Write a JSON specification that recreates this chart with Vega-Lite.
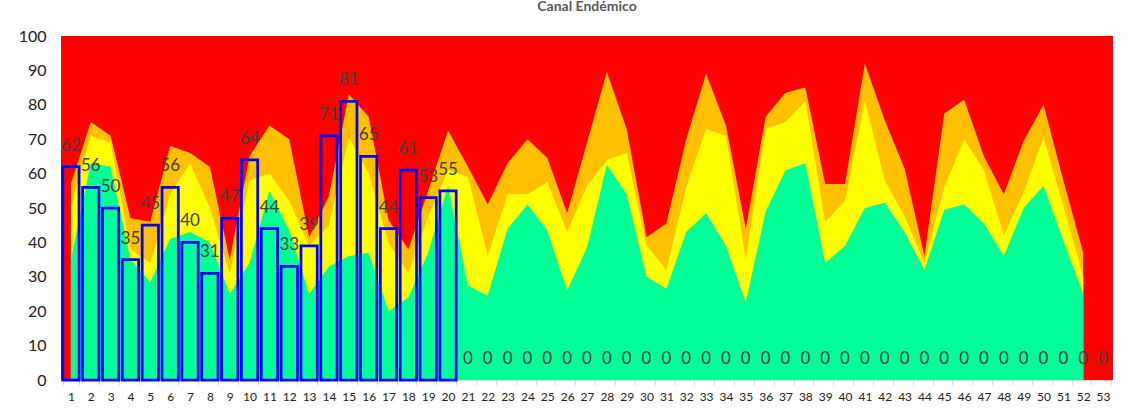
{
  "$schema": "https://vega.github.io/schema/vega-lite/v6.json",
  "width": 1052,
  "height": 344,
  "autosize": {"type": "none"},
  "padding": {"left": 61, "top": 36, "right": 21, "bottom": 29},
  "background": "white",
  "title": {"text": "Canal Endémico", "fontSize": 14, "fontWeight": "bold", "color": "#595959", "font": "Lato", "frame": "group", "anchor": "middle", "offset": 0, "baseline": "bottom"},
  "config": {"view": {"fill": "#FF0000", "stroke": null}, "font": "Lato"},
  "data": {"values": [
    {"week": 1, "casos": 62, "G": 35, "Y": 50, "O": 57},
    {"week": 2, "casos": 56, "G": 63, "Y": 71, "O": 75},
    {"week": 3, "casos": 50, "G": 62, "Y": 69, "O": 71},
    {"week": 4, "casos": 35, "G": 35, "Y": 38, "O": 47},
    {"week": 5, "casos": 45, "G": 28.5, "Y": 34, "O": 46},
    {"week": 6, "casos": 56, "G": 41, "Y": 54, "O": 68},
    {"week": 7, "casos": 40, "G": 43, "Y": 63, "O": 66},
    {"week": 8, "casos": 31, "G": 40, "Y": 50, "O": 62},
    {"week": 9, "casos": 47, "G": 25, "Y": 31, "O": 35},
    {"week": 10, "casos": 64, "G": 34, "Y": 58, "O": 65},
    {"week": 11, "casos": 44, "G": 55, "Y": 60, "O": 74},
    {"week": 12, "casos": 33, "G": 43.5, "Y": 52, "O": 70},
    {"week": 13, "casos": 39, "G": 25, "Y": 39, "O": 41.5},
    {"week": 14, "casos": 71, "G": 33, "Y": 45, "O": 53.5},
    {"week": 15, "casos": 81, "G": 36, "Y": 70.5, "O": 83},
    {"week": 16, "casos": 65, "G": 37, "Y": 60, "O": 76.5},
    {"week": 17, "casos": 44, "G": 20, "Y": 40, "O": 46.5},
    {"week": 18, "casos": 61, "G": 24, "Y": 31, "O": 38},
    {"week": 19, "casos": 53, "G": 37, "Y": 47.5, "O": 55},
    {"week": 20, "casos": 55, "G": 56.5, "Y": 61, "O": 72.5},
    {"week": 21, "casos": 0, "G": 27.5, "Y": 59, "O": 62},
    {"week": 22, "casos": 0, "G": 24.5, "Y": 36, "O": 51},
    {"week": 23, "casos": 0, "G": 44, "Y": 54, "O": 63},
    {"week": 24, "casos": 0, "G": 51, "Y": 54, "O": 70},
    {"week": 25, "casos": 0, "G": 43.5, "Y": 57.5, "O": 64.5},
    {"week": 26, "casos": 0, "G": 26, "Y": 43, "O": 48.5},
    {"week": 27, "casos": 0, "G": 38.5, "Y": 56.5, "O": 69},
    {"week": 28, "casos": 0, "G": 62.5, "Y": 64, "O": 89.5},
    {"week": 29, "casos": 0, "G": 54, "Y": 66, "O": 73},
    {"week": 30, "casos": 0, "G": 30, "Y": 39, "O": 41.5},
    {"week": 31, "casos": 0, "G": 26.5, "Y": 32, "O": 45.5},
    {"week": 32, "casos": 0, "G": 43, "Y": 56, "O": 70},
    {"week": 33, "casos": 0, "G": 48.5, "Y": 73, "O": 89},
    {"week": 34, "casos": 0, "G": 39, "Y": 71, "O": 74},
    {"week": 35, "casos": 0, "G": 22.5, "Y": 35, "O": 44},
    {"week": 36, "casos": 0, "G": 49, "Y": 73, "O": 76.5},
    {"week": 37, "casos": 0, "G": 61, "Y": 75, "O": 83.5},
    {"week": 38, "casos": 0, "G": 63, "Y": 81, "O": 85},
    {"week": 39, "casos": 0, "G": 34, "Y": 46, "O": 57},
    {"week": 40, "casos": 0, "G": 39, "Y": 52, "O": 57},
    {"week": 41, "casos": 0, "G": 50, "Y": 81, "O": 92},
    {"week": 42, "casos": 0, "G": 51.5, "Y": 58, "O": 75.5},
    {"week": 43, "casos": 0, "G": 43, "Y": 47.5, "O": 61.5},
    {"week": 44, "casos": 0, "G": 32, "Y": 34, "O": 36},
    {"week": 45, "casos": 0, "G": 49.5, "Y": 56, "O": 77.5},
    {"week": 46, "casos": 0, "G": 51, "Y": 70, "O": 81.5},
    {"week": 47, "casos": 0, "G": 45.5, "Y": 61, "O": 65},
    {"week": 48, "casos": 0, "G": 36, "Y": 42, "O": 54},
    {"week": 49, "casos": 0, "G": 50, "Y": 54.5, "O": 69.5},
    {"week": 50, "casos": 0, "G": 56.5, "Y": 70.5, "O": 80},
    {"week": 51, "casos": 0, "G": 40.5, "Y": 50.5, "O": 58},
    {"week": 52, "casos": 0, "G": 25, "Y": 30, "O": 37},
    {"week": 53, "casos": 0, "G": null, "Y": null, "O": null}
  ]},
  "encoding": {
    "x": {
      "field": "week", "type": "ordinal",
      "scale": {"paddingInner": 0.18, "paddingOuter": 0.09},
      "axis": {"title": null, "labelAngle": 0, "labelFontSize": 12, "labelColor": "#222222", "domainColor": "#D9D9D9", "tickColor": "#D9D9D9", "tickSize": 5, "tickBand": "extent", "labelPadding": 6, "grid": false}
    }
  },
  "layer": [
    {
      "mark": {"type": "area", "color": "#FFC000"},
      "encoding": {
        "x": {"field": "week", "type": "ordinal", "bandPosition": 0.5},
        "y": {"field": "O", "type": "quantitative", "scale": {"domain": [0, 100], "nice": false},
              "axis": {"title": null, "values": [0, 10, 20, 30, 40, 50, 60, 70, 80, 90, 100], "domain": false, "ticks": false, "grid": false, "labelFontSize": 16, "labelPadding": 15, "labelColor": "#222222"}}
      }
    },
    {
      "mark": {"type": "area", "color": "#FFFF00"},
      "encoding": {
        "x": {"field": "week", "type": "ordinal", "bandPosition": 0.5},
        "y": {"field": "Y", "type": "quantitative", "scale": {"domain": [0, 100], "nice": false},
              "axis": {"title": null, "values": [0, 10, 20, 30, 40, 50, 60, 70, 80, 90, 100], "domain": false, "ticks": false, "grid": false, "labelFontSize": 16, "labelPadding": 15, "labelColor": "#222222"}}
      }
    },
    {
      "mark": {"type": "area", "color": "#00FF99"},
      "encoding": {
        "x": {"field": "week", "type": "ordinal", "bandPosition": 0.5},
        "y": {"field": "G", "type": "quantitative", "scale": {"domain": [0, 100], "nice": false},
              "axis": {"title": null, "values": [0, 10, 20, 30, 40, 50, 60, 70, 80, 90, 100], "domain": false, "ticks": false, "grid": false, "labelFontSize": 16, "labelPadding": 15, "labelColor": "#222222"}}
      }
    },
    {
      "transform": [{"filter": "datum.casos > 0"}],
      "mark": {"type": "bar", "fill": "transparent", "stroke": "#0000FF", "strokeWidth": 2.75},
      "encoding": {
        "y": {"field": "casos", "type": "quantitative", "scale": {"domain": [0, 100], "nice": false},
              "axis": {"title": null, "values": [0, 10, 20, 30, 40, 50, 60, 70, 80, 90, 100], "domain": false, "ticks": false, "grid": false, "labelFontSize": 16, "labelPadding": 15, "labelColor": "#222222"}}
      }
    },
    {
      "mark": {"type": "text", "baseline": "middle", "align": "center", "dy": -21, "fontSize": 17, "color": "#404040"},
      "encoding": {
        "x": {"field": "week", "type": "ordinal", "bandPosition": 0.5},
        "y": {"field": "casos", "type": "quantitative", "scale": {"domain": [0, 100], "nice": false},
              "axis": {"title": null, "values": [0, 10, 20, 30, 40, 50, 60, 70, 80, 90, 100], "domain": false, "ticks": false, "grid": false, "labelFontSize": 16, "labelPadding": 15, "labelColor": "#222222"}},
        "text": {"field": "casos", "type": "quantitative"}
      }
    }
  ]
}
